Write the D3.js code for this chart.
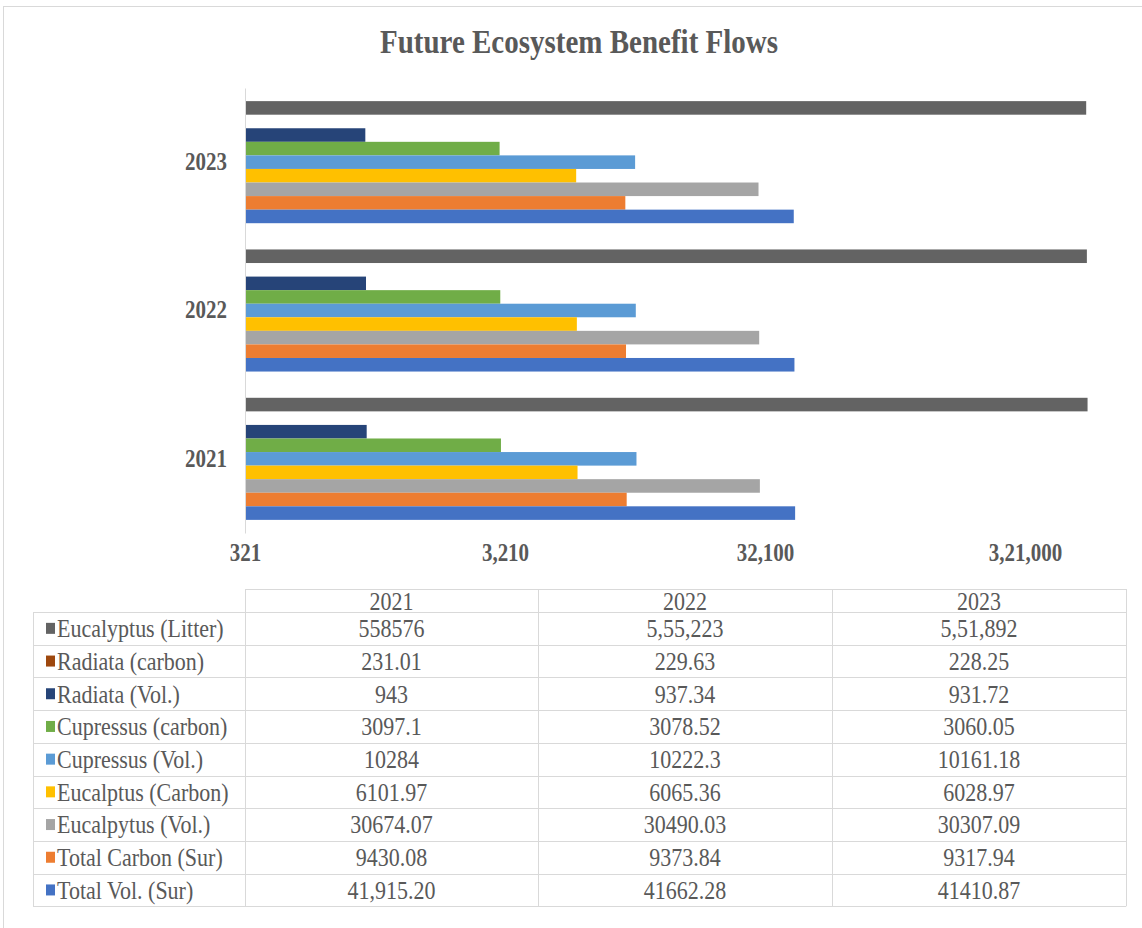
<!DOCTYPE html>
<html>
<head>
<meta charset="utf-8">
<script src="https://cdn.jsdelivr.net/npm/d3@7"></script>
<style>
	body { margin: 0; background: #fff; }
	text { font-family: "Liberation Serif", "Times New Roman", serif; fill: #595959; }
</style>
</head>
<body>
<div id="root"></div>
<script>
// categories (table columns / bar groups)
const years = ["2021", "2022", "2023"];

// series, top-to-bottom as in the table
const seriesNames = [
	"Eucalyptus (Litter)",
	"Radiata (carbon)",
	"Radiata (Vol.)",
	"Cupressus (carbon)",
	"Cupressus (Vol.)",
	"Eucalptus (Carbon)",
	"Eucalpytus (Vol.)",
	"Total Carbon (Sur)",
	"Total Vol. (Sur)",
];
const seriesColors = [
	"#636363", "#9e480e", "#264478", "#70ad47", "#5b9bd5",
	"#ffc000", "#a5a5a5", "#ed7d31", "#4472c4",
];

// values as printed in the data table (2021, 2022, 2023)
const eucLitter = ["558576", "5,55,223", "5,51,892"];
const radiataCarbon = ["231.01", "229.63", "228.25"];
const radiataVol = ["943", "937.34", "931.72"];
const cupressusCarbon = ["3097.1", "3078.52", "3060.05"];
const cupressusVol = ["10284", "10222.3", "10161.18"];
const eucCarbon = ["6101.97", "6065.36", "6028.97"];
const eucVol = ["30674.07", "30490.03", "30307.09"];
const totalCarbon = ["9430.08", "9373.84", "9317.94"];
const totalVol = ["41,915.20", "41662.28", "41410.87"];

// value axis ticks
const tickValues = [321, 3210, 32100, 321000];
const tickLabels = ["321", "3,210", "32,100", "3,21,000"];

const seriesValues = [
	eucLitter, radiataCarbon, radiataVol, cupressusCarbon, cupressusVol,
	eucCarbon, eucVol, totalCarbon, totalVol,
];
const num = (s) => +s.replace(/,/g, "");

const width = 1142;
const height = 928;
const tall = "scale(1,1.15)"; // the picture's text is a bit taller than wide

const svg = d3
	.select("#root")
	.append("svg")
	.attr("width", width)
	.attr("height", height);

// outer chart border
svg
	.append("rect")
	.attr("x", 3.5)
	.attr("y", 6.5)
	.attr("width", 1150)
	.attr("height", 930)
	.attr("fill", "#fff")
	.attr("stroke", "#d9d9d9");

svg
	.append("g")
	.attr("transform", "translate(579,53)")
	.append("text")
	.attr("transform", tall)
	.attr("text-anchor", "middle")
	.style("font-size", "29px")
	.style("font-weight", "bold")
	.text("Future Ecosystem Benefit Flows");

const x = d3.scaleLog().domain([321, 321000]).range([245, 1025]);
const y = d3
	.scaleBand()
	.domain(years.slice().reverse())
	.range([88, 533])
	.paddingInner(0.177)
	.paddingOuter(0.0885);
const ySub = d3.scaleBand().domain(seriesNames).range([0, y.bandwidth()]);

// bars
const groups = svg
	.selectAll("g.year")
	.data(years)
	.enter()
	.append("g")
	.attr("class", "year")
	.attr("transform", (d) => "translate(0," + y(d) + ")");

groups
	.selectAll("rect")
	.data((d, yi) =>
		seriesNames.map((name, si) => ({ name, si, v: num(seriesValues[si][yi]) }))
	)
	.enter()
	.append("rect")
	.attr("x", x(321))
	.attr("y", (d) => ySub(d.name))
	.attr("width", (d) => Math.max(0, x(d.v) - x(321)))
	.attr("height", ySub.bandwidth())
	.attr("fill", (d) => seriesColors[d.si]);

// category axis
const yAxis = svg
	.append("g")
	.attr("transform", "translate(245,0)")
	.call(d3.axisLeft(y).tickSize(0).tickSizeOuter(0).tickPadding(18));
yAxis.select(".domain").attr("stroke", "#d9d9d9");
yAxis
	.selectAll("text")
	.attr("transform", tall)
	.style("font-family", '"Liberation Serif", serif')
	.style("font-size", "21px")
	.style("font-weight", "bold")
	.attr("fill", "#595959");

// value axis
const xAxis = svg
	.append("g")
	.attr("transform", "translate(0,544)")
	.call(
		d3
			.axisBottom(x)
			.tickValues(tickValues)
			.tickFormat((d, i) => tickLabels[i])
			.tickSize(0)
			.tickPadding(0)
	);
xAxis.select(".domain").remove();
xAxis
	.selectAll("text")
	.attr("transform", tall)
	.style("font-family", '"Liberation Serif", serif')
	.style("font-size", "21px")
	.style("font-weight", "bold")
	.attr("fill", "#595959");

// data table
const colX = [33, 245, 538, 832, 1126];
const headTop = 589;
const rowTop = 612;
const rowH = 32.7;
const tableBottom = rowTop + rowH * seriesNames.length;
const table = svg.append("g").attr("class", "table");
const lineColor = "#d9d9d9";

table
	.append("line")
	.attr("x1", colX[1]).attr("x2", colX[4])
	.attr("y1", headTop + 0.5).attr("y2", headTop + 0.5)
	.attr("stroke", lineColor);
d3.range(seriesNames.length + 1).forEach((i) => {
	const yy = Math.round(rowTop + i * rowH) + 0.5;
	table
		.append("line")
		.attr("x1", colX[0]).attr("x2", colX[4])
		.attr("y1", yy).attr("y2", yy)
		.attr("stroke", lineColor);
});
colX.forEach((cx, i) => {
	table
		.append("line")
		.attr("x1", cx + 0.5).attr("x2", cx + 0.5)
		.attr("y1", i === 0 ? rowTop : headTop)
		.attr("y2", tableBottom)
		.attr("stroke", lineColor);
});

// header row
table
	.selectAll("g.head")
	.data(years)
	.enter()
	.append("g")
	.attr("class", "head")
	.attr("transform", (d, i) =>
		"translate(" + (colX[i + 1] + colX[i + 2]) / 2 + "," + ((headTop + rowTop) / 2 + 1) + ")"
	)
	.append("text")
	.attr("transform", tall)
	.attr("dy", "0.35em")
	.attr("text-anchor", "middle")
	.style("font-size", "22px")
	.text((d) => d);

const rows = table
	.selectAll("g.row")
	.data(seriesNames)
	.enter()
	.append("g")
	.attr("class", "row")
	.attr("transform", (d, i) => "translate(0," + (rowTop + rowH * (i + 0.5)) + ")");

rows
	.append("rect")
	.attr("x", 46)
	.attr("y", -5.5)
	.attr("width", 9)
	.attr("height", 11)
	.attr("fill", (d, i) => seriesColors[i]);

rows
	.append("g")
	.attr("transform", "translate(57,0)")
	.append("text")
	.attr("transform", tall)
	.attr("dy", "0.35em")
	.style("font-size", "22px")
	.text((d) => d);

rows
	.selectAll("g.val")
	.data((d, i) => seriesValues[i])
	.enter()
	.append("g")
	.attr("class", "val")
	.attr("transform", (d, i) => "translate(" + (colX[i + 1] + colX[i + 2]) / 2 + ",0)")
	.append("text")
	.attr("transform", tall)
	.attr("dy", "0.35em")
	.attr("text-anchor", "middle")
	.style("font-size", "22px")
	.text((d) => d);
</script>
</body>
</html>
